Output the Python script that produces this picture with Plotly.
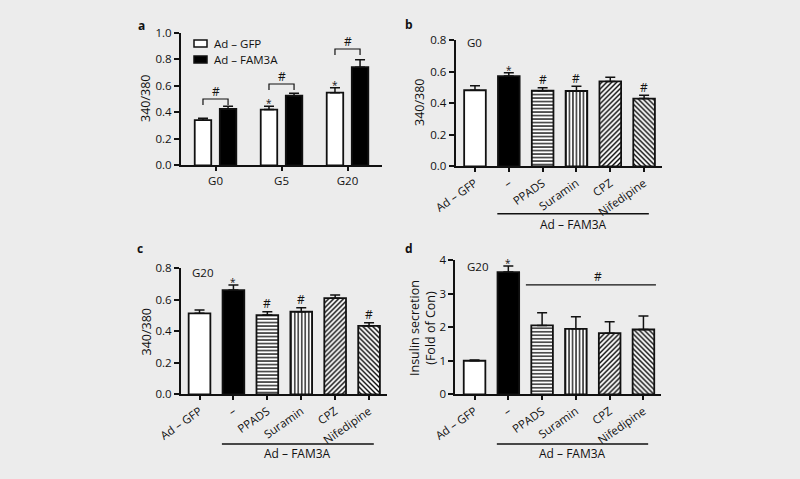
import plotly.graph_objects as go

# ---------------- data ----------------
a_groups = ["G0", "G5", "G20"]
a_gfp = [0.34, 0.42, 0.548]
a_gfp_err = [0.015, 0.025, 0.037]
a_fam = [0.425, 0.525, 0.74]
a_fam_err = [0.02, 0.018, 0.056]
a_gfp_marks = ["", "*", "*"]
a_bracket = [0.50, 0.613, 0.877]

treatments = ["Ad – GFP", "–", "PPADS", "Suramin", "CPZ", "Nifedipine"]
b_vals = [0.483, 0.573, 0.48, 0.478, 0.539, 0.43]
b_err = [0.029, 0.021, 0.019, 0.031, 0.027, 0.021]
b_marks = ["", "*", "#", "#", "", "#"]

c_vals = [0.514, 0.662, 0.503, 0.524, 0.61, 0.434]
c_err = [0.021, 0.032, 0.021, 0.026, 0.02, 0.021]
c_marks = ["", "*", "#", "#", "", "#"]

d_vals = [1.0, 3.64, 2.05, 1.95, 1.82, 1.93]
d_err = [0.02, 0.18, 0.38, 0.36, 0.34, 0.40]
d_marks = ["", "*", "", "", "", ""]
d_sig_level = 3.26

# ---------------- styling ----------------
W, H = 800, 479
BG = "#ECECEC"
INK = "#111111"
FONT = "Open Sans"
bar_fill = ["white", "black", "white", "white", "white", "white"]
bar_shape = ["", "", "-", "|", "/", "\\"]
bar_psize = [4, 4, 3.5, 3.5, 3.5, 3.5]
bar_psol = [0.3, 0.3, 0.35, 0.35, 0.4, 0.4]


def px(x):
    return x / W


def py(y):
    return 1 - y / H


fig = go.Figure()

# panel a (grouped bars)
half = 0.19
bw = 0.25
a_x = list(range(len(a_groups)))
err_style = dict(type="data", symmetric=False, color=INK, thickness=1.5, width=5)
fig.add_trace(go.Bar(
    x=a_x, y=a_gfp, offset=-half - bw / 2, width=bw, name="Ad – GFP",
    marker=dict(color="white", line=dict(color=INK, width=1.8)),
    error_y=dict(array=a_gfp_err, arrayminus=[0] * len(a_x), **err_style),
    xaxis="x", yaxis="y", showlegend=False))
fig.add_trace(go.Bar(
    x=a_x, y=a_fam, offset=half - bw / 2, width=bw, name="Ad – FAM3A",
    marker=dict(color="black", line=dict(color=INK, width=1.8)),
    error_y=dict(array=a_fam_err, arrayminus=[0] * len(a_x), **err_style),
    xaxis="x", yaxis="y", showlegend=False))

panels = [("x2", "y2", b_vals, b_err), ("x3", "y3", c_vals, c_err), ("x4", "y4", d_vals, d_err)]
for xa, ya, vals, errs in panels:
    for i, t in enumerate(treatments):
        pat = dict(shape=bar_shape[i], fgcolor="black", bgcolor=bar_fill[i], fgopacity=1,
                   fillmode="replace", size=bar_psize[i], solidity=bar_psol[i])
        fig.add_trace(go.Bar(
            x=[t], y=[vals[i]], width=0.64,
            marker=dict(color=bar_fill[i], line=dict(color=INK, width=1.8), pattern=pat),
            error_y=dict(array=[errs[i]], arrayminus=[0], **err_style),
            xaxis=xa, yaxis=ya, showlegend=False))

annotations = []
shapes = []


def ann(**kw):
    base = dict(showarrow=False, xanchor="center", yanchor="middle")
    base.update(kw)
    annotations.append(base)


def mark(xref, yref, x, y, text):
    if text == "*":
        ann(xref=xref, yref=yref, x=x, y=y, text="*",
            font=dict(family=FONT, size=10, color=INK), yshift=3)
    elif text == "#":
        ann(xref=xref, yref=yref, x=x, y=y, text="#",
            font=dict(family=FONT, size=12, color=INK), yshift=8)


for i in a_x:
    mark("x", "y", i - half, a_gfp[i] + a_gfp_err[i], a_gfp_marks[i])
    top = a_bracket[i]
    leg = 0.045
    shapes.append(dict(type="path", xref="x", yref="y",
                       path=f"M {i-half},{top-leg} L {i-half},{top} L {i+half},{top} L {i+half},{top-leg}",
                       line=dict(color=INK, width=1.2)))
    mark("x", "y", i, top, "#")

for (xa, ya, vals, errs), marks in zip(panels, [b_marks, c_marks, d_marks]):
    for i, t in enumerate(treatments):
        mark(xa, ya, t, vals[i] + errs[i], marks[i])

# panel d significance line
shapes.append(dict(type="line", xref="x4", yref="y4", x0=1.52, x1=5.37,
                   y0=d_sig_level, y1=d_sig_level, line=dict(color=INK, width=1.2)))
ann(xref="x4", yref="y4", x=3.65, y=d_sig_level, text="#",
    font=dict(family=FONT, size=12, color=INK), yshift=8)

# Ad - FAM3A group labels
for xa, yline, ylab in [("x2", 213.7, 224), ("x3", 444, 453.5), ("x4", 444, 453.5)]:
    shapes.append(dict(type="line", xref=xa, yref="paper", x0=0.66, x1=5.14,
                       y0=py(yline), y1=py(yline), line=dict(color=INK, width=1.5)))
    ann(xref=xa, yref="paper", x=2.9, y=py(ylab), text="Ad – FAM3A",
        font=dict(family=FONT, size=12, color=INK))

# panel letters
for lab, x, y in [("a", 141.5, 25), ("b", 409, 24), ("c", 140, 249), ("d", 409, 249)]:
    ann(xref="paper", yref="paper", x=px(x), y=py(y), text=f"<b>{lab}</b>",
        font=dict(family=FONT, size=12, color=INK))

# condition labels
for lab, x, y in [("G0", 465, 43), ("G20", 190, 272), ("G20", 465, 266)]:
    ann(xref="paper", yref="paper", x=px(x), y=py(y), text=lab, xanchor="left",
        font=dict(family=FONT, size=11.5, color=INK))

# y titles
for lab, x, y in [("340/380", 145, 99), ("340/380", 419, 103), ("340/380", 145.5, 332),
                  ("Insulin secretion<br>(Fold of Con)", 422, 328)]:
    ann(xref="paper", yref="paper", x=px(x), y=py(y), text=lab, textangle=-90,
        font=dict(family=FONT, size=12.5, color=INK))

# legend for panel a
for i, (name, col) in enumerate([("Ad – GFP", "white"), ("Ad – FAM3A", "black")]):
    yc = 43.5 + 16 * i
    shapes.append(dict(type="rect", xref="paper", yref="paper", x0=px(194), x1=px(207),
                       y0=py(yc + 3.5), y1=py(yc - 3.5), fillcolor=col, line=dict(color=INK, width=1.5)))
    ann(xref="paper", yref="paper", x=px(211.5), y=py(yc), text=name, xanchor="left",
        font=dict(family=FONT, size=11.5, color=INK))

tick_font = dict(family=FONT, size=11.5, color=INK)
ax_common = dict(showline=True, linecolor=INK, linewidth=2, showgrid=False, zeroline=False,
                 ticks="outside", tickcolor=INK, tickwidth=1.5, tickfont=tick_font, automargin=False)
cat_ax = dict(type="category", categoryorder="array", categoryarray=treatments, tickangle=-35, ticklen=4)

fig.update_layout(
    template="none",
    width=W, height=H, margin=dict(l=0, r=0, t=0, b=0, pad=0), autosize=False,
    paper_bgcolor=BG, plot_bgcolor=BG, barmode="overlay",
    font=dict(family=FONT, color=INK),
    xaxis=dict(domain=[px(181), px(381.7)], range=[-0.523, 2.518], tickvals=a_x, ticktext=a_groups,
               ticklen=4, anchor="y", **ax_common),
    yaxis=dict(domain=[py(165.3), py(32.7)], range=[0, 1], dtick=0.2, tickformat=".1f",
               ticklen=5, anchor="x", **ax_common),
    xaxis2=dict(domain=[px(455.7), px(661.7)], range=[-0.57, 5.52], anchor="y2", **cat_ax, **ax_common),
    yaxis2=dict(domain=[py(166.3), py(40.3)], range=[0, 0.8], dtick=0.2, tickformat=".1f",
                ticklen=5, anchor="x2", **ax_common),
    xaxis3=dict(domain=[px(181), px(386.7)], range=[-0.546, 5.52], anchor="y3", **cat_ax, **ax_common),
    yaxis3=dict(domain=[py(394.3), py(268.3)], range=[0, 0.8], dtick=0.2, tickformat=".1f",
                ticklen=5, anchor="x3", **ax_common),
    xaxis4=dict(domain=[px(455.3), px(661)], range=[-0.57, 5.52], anchor="y4", **cat_ax, **ax_common),
    yaxis4=dict(domain=[py(394.3), py(260)], range=[0, 4], dtick=1,
                ticklen=5, anchor="x4", **ax_common),
    annotations=annotations, shapes=shapes,
)

fig.write_html("out.html", config={"displayModeBar": False},
               post_script="document.body.style.margin='0';")
